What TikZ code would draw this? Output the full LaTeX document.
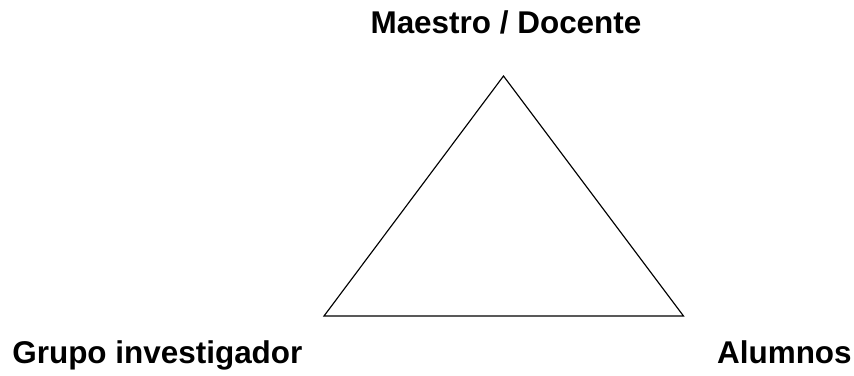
\documentclass[tikz,border=0pt]{standalone}
\usepackage{fontspec}
\setmainfont{Liberation Sans}
\begin{document}
\begin{tikzpicture}[x=0.02cm, y=-0.02cm, edge/.style={line width=0.65pt, black, line join=miter}, role/.style={font=\fontsize{17.9}{21}\selectfont\bfseries, inner sep=0pt, text=black}]
\useasboundingbox (0,0) rectangle (854,375);
\coordinate (apex) at (503.5,76);
\coordinate (baseL) at (324,316);
\coordinate (baseR) at (683.5,316);
\draw[edge] (apex) -- (baseL) -- (baseR) -- cycle;
\node[role, anchor=base] (docente) at (506,34) {Maestro / Docente};
\node[role, anchor=base west] (grupo) at (12,363) {Grupo investigador};
\node[role, anchor=base east] (alumnos) at (852,363) {Alumnos};
\end{tikzpicture}
\end{document}
